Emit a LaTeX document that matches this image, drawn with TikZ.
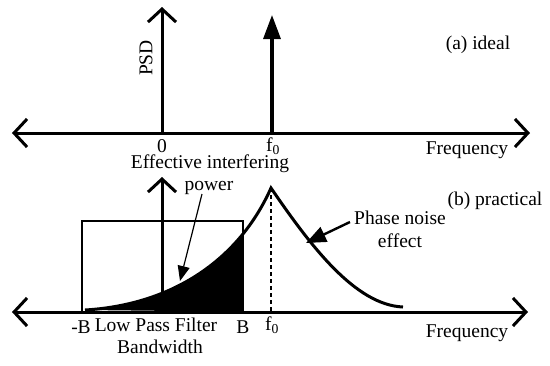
\documentclass[tikz,border=0pt]{standalone}
\usepackage{fontspec}
\setmainfont{Liberation Serif}
\usetikzlibrary{arrows.meta}
\begin{document}
\begin{tikzpicture}[x=1pt,y=-1pt,
  axis/.style={line width=3pt,{Straight Barb[length=13pt,width=28pt]}-{Straight Barb[length=13pt,width=28pt]}},
  upaxis/.style={line width=3pt,-{Straight Barb[length=13pt,width=28pt]}},
  impulse/.style={line width=3.2pt,-{Triangle[length=24pt,width=17pt]}},
  lbl/.style={inner sep=0pt,font=\fontsize{19.5}{22}\selectfont},
  curve/.style={line width=3pt},
  pointer/.style={line width=2.4pt,-{Triangle[length=20pt,width=16pt]}},
  thinpointer/.style={line width=1.2pt,-{Triangle[length=15pt,width=12pt]}}]
\useasboundingbox (0,0) rectangle (550,365);
% ---------- (a) ideal ----------
\coordinate (aL) at (12,133);
\coordinate (aR) at (530,133);
\coordinate (a0) at (162,133);
\coordinate (aTop) at (162,7);
\coordinate (af) at (272,133);
\coordinate (afTop) at (272,15);
\draw[axis] (aL) -- (aR);
\draw[upaxis] (a0) -- (aTop);
\draw[impulse] (af) -- (afTop);
\node[lbl,rotate=90] (psd) at (146,58) {PSD};
\node[lbl] (zero) at (162,146) {0};
\node[lbl] (fa) at (273,146) {f\textsubscript{0}};
\node[lbl] (freqa) at (467,150) {Frequency};
\node[lbl] (ideal) at (478,45) {(a) ideal};
% ---------- (b) practical ----------
\coordinate (bL) at (12,312);
\coordinate (bR) at (528,312);
\coordinate (b0) at (162,312);
\coordinate (bTop) at (162,177);
\coordinate (mB) at (82,312);
\coordinate (pB) at (243,312);
\coordinate (peak) at (271,188);
\coordinate (pf) at (271,312);
\coordinate (cs) at (85,310);
\coordinate (ce) at (403,307);
% filled area under the curve inside the filter band
\begin{scope}
  \clip (80,150) rectangle (243,312);
  \fill (cs) .. controls (170,305) and (238,262) .. (peak) -- (pf) -- cycle;
\end{scope}
\draw[curve] (cs) .. controls (170,305) and (238,262) .. (peak)
  .. controls (310,245) and (355,305) .. (ce);
\draw[line width=2.6pt] (mB) -- (82,221) -- (243,221) -- (pB);
\draw[line width=2.8pt,dash pattern=on 4pt off 3pt] (peak) -- (pf);
\draw[axis] (bL) -- (bR);
\draw[upaxis] (b0) -- (bTop);
\node[lbl] (eff) at (210,164) {Effective interfering};
\node[lbl] (pow) at (209,188) {power};
\coordinate (powS) at (202,194);
\coordinate (powT) at (180,281);
\draw[thinpointer] (powS) -- (powT);
\node[lbl] (prac) at (495,201) {(b) practical};
\node[lbl] (pn1) at (400,218) {Phase noise};
\node[lbl] (pn2) at (400,241) {effect};
\coordinate (pnS) at (350,222);
\coordinate (pnT) at (306,243);
\draw[pointer] (pnS) -- (pnT);
\node[lbl] (mBl) at (81,327) {-B};
\node[lbl] (pBl) at (243,327) {B};
\node[lbl] (fb) at (272,325) {f\textsubscript{0}};
\node[lbl] (lpf) at (156,325) {Low Pass Filter};
\node[lbl] (bw) at (160,347) {Bandwidth};
\node[lbl] (freqb) at (467,333) {Frequency};
\end{tikzpicture}
\end{document}
